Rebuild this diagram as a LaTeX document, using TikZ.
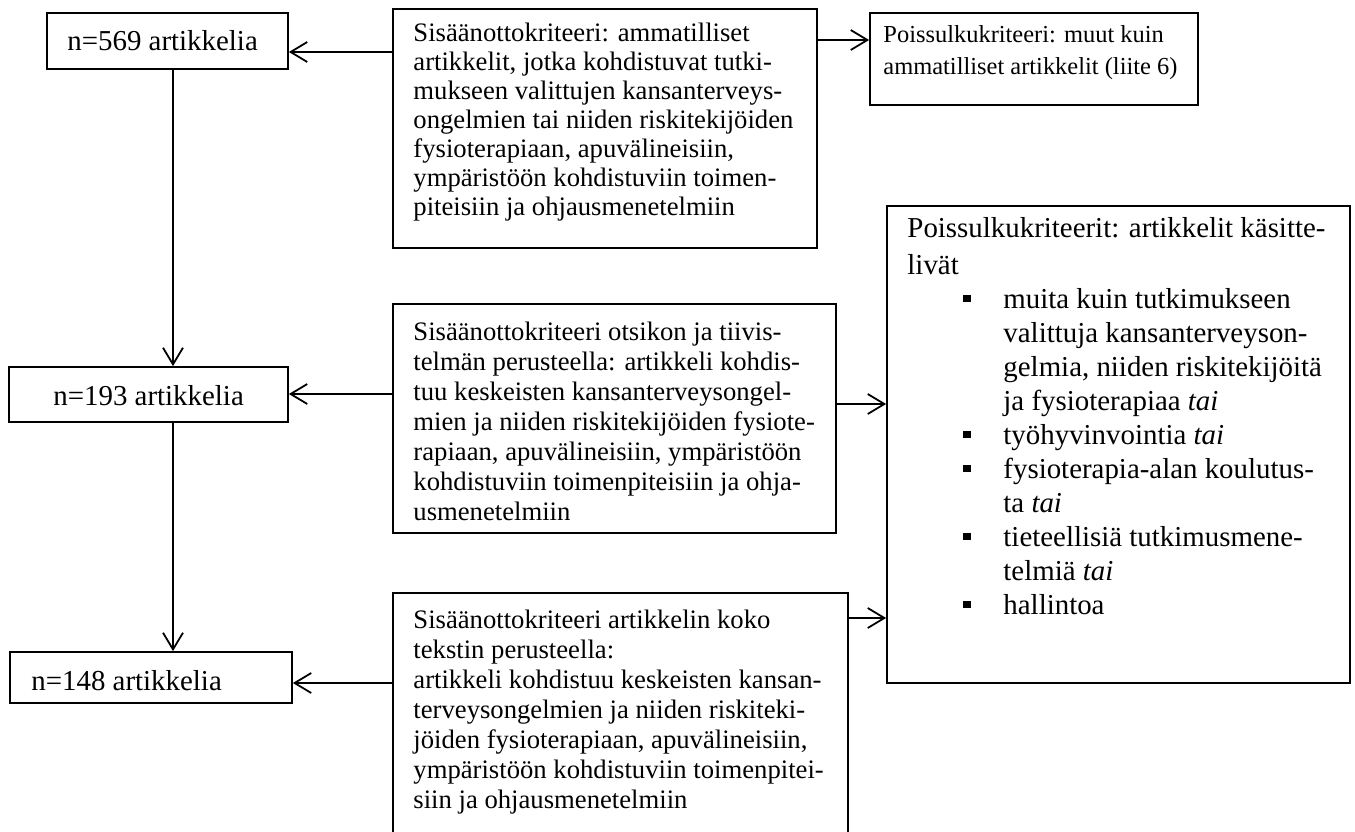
\documentclass[tikz,border=0pt]{standalone}
\usepackage{fontspec}
\setmainfont{Liberation Serif}
\usetikzlibrary{arrows.meta,fit}

\newcommand{\bul}{\makebox[18pt][l]{\raisebox{2.6pt}{\rule{3.3pt}{3.3pt}}}}
\newcommand{\itm}{\hspace*{25.2pt}\bul}
\newcommand{\cnt}{\hspace*{43.2pt}}

\begin{document}
\begin{tikzpicture}[x=0.45pt,y=-0.45pt,
  box/.style={draw,line width=0.8pt,inner sep=0pt},
  txt/.style={anchor=base west,inner sep=0pt,align=left,font=\fontsize{12}{13.5}\selectfont},
  num/.style={anchor=base west,inner sep=0pt,font=\fontsize{13}{15}\selectfont},
  arr/.style={-{Straight Barb[length=7.5pt,width=9pt]},line width=0.8pt}]
\useasboundingbox (0,0) rectangle (1355,832);
% counts
\node[box,fit={(47,13) (288,69)}] (n569) {};
\node[num] (n569t) at (67,50) {n=569 artikkelia};
\node[box,fit={(9,367) (288,422)}] (n193) {};
\node[num] (n193t) at (53,405) {n=193 artikkelia};
\node[box,fit={(10,652) (292,703)}] (n148) {};
\node[num] (n148t) at (31,690) {n=148 artikkelia};
% inclusion criteria (text nodes sit on their last baseline)
\node[box,fit={(393,9) (817,248)}] (crit1) {};
\node[txt,font=\fontsize{12}{13}\selectfont] (crit1t) at (413,215) {Sisäänottokriteeri: ammatilliset\\
artikkelit, jotka kohdistuvat tutki-\\
mukseen valittujen kansanterveys-\\
ongelmien tai niiden riskitekijöiden\\
fysioterapiaan, apuvälineisiin,\\
ympäristöön kohdistuviin toimen-\\
piteisiin ja ohjausmenetelmiin};
\node[box,fit={(393,304) (836,533)}] (crit2) {};
\node[txt] (crit2t) at (413,520) {Sisäänottokriteeri otsikon ja tiivis-\\
telmän perusteella: artikkeli kohdis-\\
tuu keskeisten kansanterveysongel-\\
mien ja niiden riskitekijöiden fysiote-\\
rapiaan, apuvälineisiin, ympäristöön\\
kohdistuviin toimenpiteisiin ja ohja-\\
usmenetelmiin};
\node[box,fit={(393,593) (848,860)}] (crit3) {};
\node[txt] (crit3t) at (413,808) {Sisäänottokriteeri artikkelin koko\\
tekstin perusteella:\\
artikkeli kohdistuu keskeisten kansan-\\
terveysongelmien ja niiden riskiteki-\\
jöiden fysioterapiaan, apuvälineisiin,\\
ympäristöön kohdistuviin toimenpitei-\\
siin ja ohjausmenetelmiin};
% exclusion criteria
\node[box,fit={(870,13) (1198,105)}] (excl1) {};
\node[txt,font=\fontsize{11}{14.4}\selectfont] (excl1t) at (883,74) {Poissulkukriteeri: muut kuin\\
ammatilliset artikkelit (liite 6)};
\node[box,fit={(887,206) (1350,683)}] (excl2) {};
\node[txt,font=\fontsize{13}{15.3}\selectfont] (excl2t) at (907,614) {Poissulkukriteerit: artikkelit käsitte-\\[1pt]
livät\\
\itm muita kuin tutkimukseen\\
\cnt valittuja kansanterveyson-\\
\cnt gelmia, niiden riskitekijöitä\\
\cnt ja fysioterapiaa \textit{tai}\\
\itm työhyvinvointia \textit{tai}\\
\itm fysioterapia-alan koulutus-\\
\cnt ta \textit{tai}\\
\itm tieteellisiä tutkimusmene-\\
\cnt telmiä \textit{tai}\\
\itm hallintoa};
% arrows
\draw[arr] (crit1.west |- 0,52) -- (n569.east |- 0,52);
\draw[arr] (crit1.east |- 0,40) -- (excl1.west |- 0,40);
\draw[arr] (n569.south -| 173,0) -- (n193.north -| 173,0);
\draw[arr] (crit2.west |- 0,394) -- (n193.east |- 0,394);
\draw[arr] (crit2.east |- 0,404) -- (excl2.west |- 0,404);
\draw[arr] (n193.south -| 173,0) -- (n148.north -| 173,0);
\draw[arr] (crit3.west |- 0,683) -- (n148.east |- 0,683);
\draw[arr] (crit3.east |- 0,618) -- (excl2.west |- 0,618);
\end{tikzpicture}
\end{document}
